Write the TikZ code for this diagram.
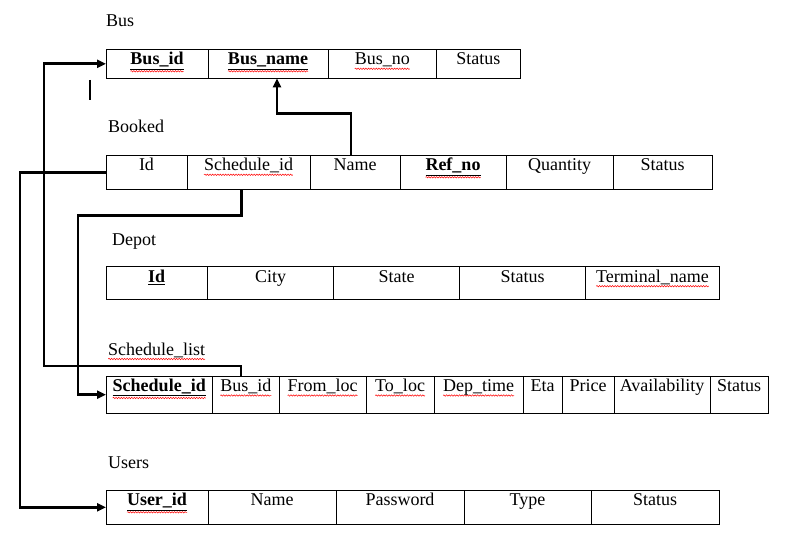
\documentclass[tikz,border=0pt]{standalone}
\usepackage{fontspec}
\setmainfont{Liberation Serif}
\usetikzlibrary{positioning,calc,arrows.meta,decorations.pathmorphing}

\newcommand\spellwave[2][4pt]{\setbox0=\hbox{#2}\leavevmode\rlap{\tikz[overlay,baseline=0pt]\draw[red, line width=0.5pt, decorate, decoration={snake,amplitude=0.7pt,segment length=2.6pt}] (0pt,-#1) -- (\wd0,-#1);}\box0}
\newcommand\pkey[1]{\underline{\textbf{#1}}}

\tikzset{
  cell/.style={draw, line width=0.9pt, inner sep=0pt, outer sep=0pt, text height=15.5pt, minimum width=#1},
  tname/.style={anchor=base west, inner sep=0pt},
  link/.style={line width=2.6pt, -{Triangle[length=9pt,width=8pt]}},
}

\begin{document}
\begin{tikzpicture}[x=1pt, y=-1pt, font=\fontsize{18}{21}\selectfont]
\useasboundingbox (0,0) rectangle (786,548);

% table names
\node[tname] (lbus) at (106,27) {Bus};
\node[tname] (lbooked) at (108,133) {Booked};
\node[tname] (ldepot) at (112,245) {Depot};
\node[tname] (lsched) at (108,355) {\spellwave{Schedule\_list}};
\node[tname] (lusers) at (108,468) {Users};

% Bus
\begin{scope}[nodes={text depth=13.5pt}]
\node[cell=102pt, anchor=north west] (bid) at (106,49.3) {\spellwave[6.5pt]{\pkey{Bus\_id}}};
\node[cell=120pt, right=0pt of bid] (bname) {\spellwave[6.5pt]{\pkey{Bus\_name}}};
\node[cell=108.5pt, right=0pt of bname] (bno) {\spellwave{Bus\_no}};
\node[cell=83.5pt, right=0pt of bno] (bstat) {Status};
\end{scope}
\draw[line width=1.3pt] (90,80) -- (90,100);

% Booked
\begin{scope}[nodes={text depth=18.7pt}]
\node[cell=81pt, anchor=north west] (kid) at (106,155.3) {Id};
\node[cell=123pt, right=0pt of kid] (ksid) {\spellwave{Schedule\_id}};
\node[cell=90pt, right=0pt of ksid] (kname) {Name};
\node[cell=106pt, right=0pt of kname] (kref) {\spellwave[6.5pt]{\pkey{Ref\_no}}};
\node[cell=107pt, right=0pt of kref] (kqty) {Quantity};
\node[cell=99pt, right=0pt of kqty] (kstat) {Status};
\end{scope}

% Depot
\begin{scope}[nodes={text depth=16.8pt}]
\node[cell=101.5pt, anchor=north west] (did) at (106,266.7) {\pkey{Id}};
\node[cell=126pt, right=0pt of did] (dcity) {City};
\node[cell=126pt, right=0pt of dcity] (dstate) {State};
\node[cell=126pt, right=0pt of dstate] (dstat) {Status};
\node[cell=134pt, right=0pt of dstat] (dterm) {\spellwave{Terminal\_name}};
\end{scope}

% Schedule_list
\begin{scope}[nodes={text depth=21.8pt}]
\node[cell=106.5pt, anchor=north west] (sid) at (106,376) {\spellwave[6.5pt]{\pkey{Schedule\_id}}};
\node[cell=66.6pt, right=0pt of sid] (sbus) {\spellwave{Bus\_id}};
\node[cell=87pt, right=0pt of sbus] (sfrom) {\spellwave{From\_loc}};
\node[cell=68pt, right=0pt of sfrom] (sto) {\spellwave{To\_loc}};
\node[cell=89pt, right=0pt of sto] (sdep) {\spellwave{Dep\_time}};
\node[cell=39pt, right=0pt of sdep] (seta) {Eta};
\node[cell=52pt, right=0pt of seta] (sprice) {Price};
\node[cell=96pt, right=0pt of sprice] (savail) {Availability};
\node[cell=58pt, right=0pt of savail] (sstat) {Status};
\end{scope}

% Users
\begin{scope}[nodes={text depth=18.5pt}]
\node[cell=102pt, anchor=north west] (uid) at (106,490.3) {\spellwave[6.5pt]{\pkey{User\_id}}};
\node[cell=128pt, right=0pt of uid] (uname) {Name};
\node[cell=128pt, right=0pt of uname] (upass) {Password};
\node[cell=127pt, right=0pt of upass] (utype) {Type};
\node[cell=128pt, right=0pt of utype] (ustat) {Status};
\end{scope}

% links
\draw[link] ($(sbus.north)+(-5,0)$) -- ++(0,-10) -| ($(bid.west)+(-62,0)$) -- (bid.west);
\draw[link] ($(kname.north)+(-4,0)$) -- ++(0,-42) -| ($(bname.south)+(9,0)$);
\draw[link] ($(ksid.south)+(-7,0)$) -- ++(0,26) -| ($(sid.west)+(-28,0)$) -- (sid.west);
\draw[link] (kid.west) -- ++(-86,0) |- (uid.west);
\end{tikzpicture}
\end{document}
